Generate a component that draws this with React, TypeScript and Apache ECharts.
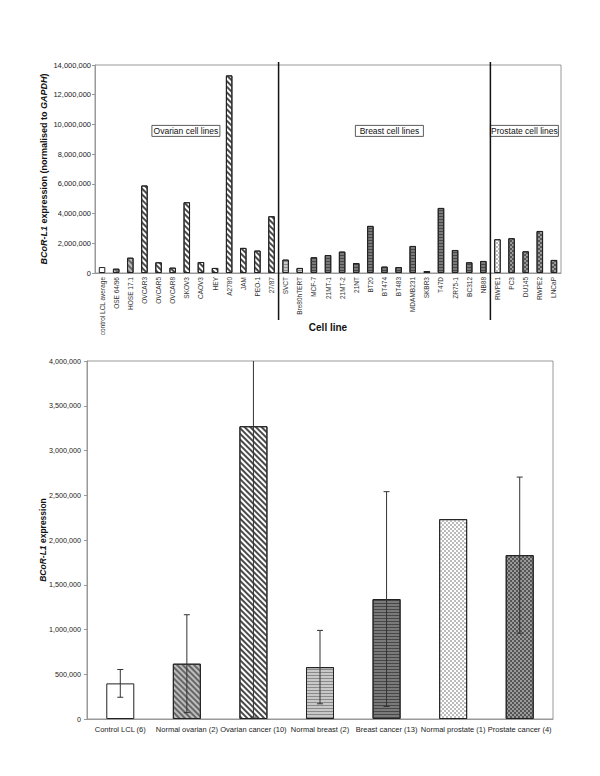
import React, { useEffect, useRef } from "react";
import * as echarts from "echarts";

// ---------- Top chart data ----------
const cellLines = [
  "control LCL average", "OSE 64/96", "HOSE 17.1", "OVCAR3", "OVCAR5", "OVCAR8", "SKOV3", "CAOV3", "HEY", "A2780", "JAM", "PEO-1", "27/87",
  "SVCT", "Bre80hTERT", "MCF-7", "21MT-1", "21MT-2", "21NT", "BT20", "BT474", "BT483", "MDAMB231", "SKBR3", "T47D", "ZR75-1", "BC312", "NB88",
  "RWPE1", "PC3", "DU145", "RWPE2", "LNCaP",
];
const cellValues = [
  400000, 290000, 1030000, 5890000, 720000, 360000, 4760000, 740000, 340000, 13300000, 1690000, 1510000, 3820000,
  900000, 340000, 1060000, 1210000, 1440000, 670000, 3170000, 430000, 400000, 1820000, 130000, 4380000, 1550000, 720000, 810000,
  2270000, 2340000, 1460000, 2830000, 880000,
];
const cellGroups = [
  "control", "normalOv", "normalOv", "ovCancer", "ovCancer", "ovCancer", "ovCancer", "ovCancer", "ovCancer", "ovCancer", "ovCancer", "ovCancer", "ovCancer",
  "normalBreast", "normalBreast", "breastCancer", "breastCancer", "breastCancer", "breastCancer", "breastCancer", "breastCancer", "breastCancer", "breastCancer", "breastCancer", "breastCancer", "breastCancer", "breastCancer", "breastCancer",
  "normalProstate", "prostateCancer", "prostateCancer", "prostateCancer", "prostateCancer",
];
const topMax = 14000000;
const topInterval = 2000000;
// last category of a block, first category of the next
const separators = [["27/87", "SVCT"], ["NB88", "RWPE1"]];
const blockLabels = ["Ovarian cell lines", "Breast cell lines", "Prostate cell lines"];

// ---------- Bottom chart data ----------
const groupCategories = [
  "Control LCL (6)", "Normal ovarian (2)", "Ovarian cancer (10)", "Normal breast (2)",
  "Breast cancer (13)", "Normal prostate (1)", "Prostate cancer (4)",
];
const groupMeans = [398000, 618000, 3271000, 580000, 1340000, 2233000, 1831000];
const groupErrors: (number | null)[] = [155000, 547000, 3250000, 410000, 1200000, null, 872000];
const groupKeys = ["control", "normalOv", "ovCancer", "normalBreast", "breastCancer", "normalProstate", "prostateCancer"];
const bottomMax = 4000000;
const bottomInterval = 500000;

const FONT = "Liberation Sans";

const stripes = (color: string) => ({
  symbol: "rect", symbolSize: 1, dashArrayX: [1, 0], dashArrayY: [2, 2], rotation: Math.PI / 4, color,
});
const hlines = (color: string) => ({
  symbol: "rect", symbolSize: 1, dashArrayX: [1, 0], dashArrayY: [1, 2], color,
});
const checker = (color: string) => ({
  symbol: "rect", symbolSize: 1, dashArrayX: [[2, 2], [0, 2, 2, 0]], dashArrayY: [2, 0], color,
});

const styles: Record<string, any> = {
  control: { color: "#ffffff" },
  normalOv: { color: "#bdbdbd", decal: stripes("#666666") },
  ovCancer: { color: "#ffffff", decal: stripes("#4a4a4a") },
  normalBreast: { color: "#c8c8c8", decal: hlines("#8a8a8a") },
  breastCancer: { color: "#7a7a7a", decal: hlines("#474747") },
  normalProstate: { color: "#ffffff", decal: checker("#bcbcbc") },
  prostateCancer: { color: "#9a9a9a", decal: checker("#555555") },
};

const fmt = (v: number) => v.toLocaleString("en-US");

export default function App() {
  const ref = useRef<HTMLDivElement>(null);
  useEffect(() => {
    document.body.style.margin = "0";
    const chart = echarts.init(ref.current!, null, { renderer: "svg" });

    const topBars = cellValues.map((v, i) => ({
      value: v,
      itemStyle: { ...styles[cellGroups[i]], borderColor: "#222", borderWidth: 1 },
    }));
    const bottomBars = groupMeans.map((v, i) => ({
      value: v,
      itemStyle: { ...styles[groupKeys[i]], borderColor: "#222", borderWidth: 1 },
    }));
    const errData = groupMeans
      .map((m, i) => (groupErrors[i] == null ? null : [i, m - (groupErrors[i] as number), m + (groupErrors[i] as number)]))
      .filter((d) => d != null);

    const boxW = [68, 68, 68];
    const boxCenters = [185.5, 389, 524];

    chart.setOption({
      animation: false,
      textStyle: { fontFamily: FONT },
      grid: [
        { left: 95, right: 39, top: 65, height: 208, show: true, borderColor: "#999", borderWidth: 1, backgroundColor: "transparent" },
        { left: 87, right: 47, top: 361, height: 358, show: true, borderColor: "#999", borderWidth: 1, backgroundColor: "transparent" },
      ],
      xAxis: [
        {
          type: "category", gridIndex: 0, data: cellLines,
          axisLine: { lineStyle: { color: "#999" } },
          axisTick: { lineStyle: { color: "#999" }, length: 3 },
          axisLabel: { rotate: 90, fontSize: 6.5, color: "#333", interval: 0, margin: 4, fontFamily: FONT },
          name: "Cell line", nameLocation: "middle", nameGap: 49, nameMoveOverlap: false,
          nameTextStyle: { fontWeight: "bold", fontSize: 10, color: "#111", fontFamily: FONT },
        },
        {
          type: "category", gridIndex: 1, data: groupCategories,
          axisLine: { lineStyle: { color: "#999" } },
          axisTick: { lineStyle: { color: "#999" }, length: 3 },
          axisLabel: { fontSize: 7.5, color: "#222", interval: 0, margin: 6, fontFamily: FONT },
        },
      ],
      yAxis: [
        {
          type: "value", gridIndex: 0, min: 0, max: topMax, interval: topInterval,
          axisLine: { show: true, lineStyle: { color: "#999" } },
          axisTick: { show: true, lineStyle: { color: "#999" }, length: 3 },
          splitLine: { show: false },
          axisLabel: { fontSize: 7.5, color: "#222", formatter: fmt, margin: 4, fontFamily: FONT },
          name: "{i|BCoR-L1} expression (normalised to {i|GAPDH})",
          nameLocation: "middle", nameRotate: 90, nameGap: 47, nameMoveOverlap: false,
          nameTextStyle: {
            fontWeight: "bold", fontSize: 9, color: "#111", fontFamily: FONT,
            rich: { i: { fontStyle: "italic", fontWeight: "bold", fontSize: 9, color: "#111", fontFamily: FONT } },
          },
        },
        {
          type: "value", gridIndex: 1, min: 0, max: bottomMax, interval: bottomInterval,
          axisLine: { show: true, lineStyle: { color: "#999" } },
          axisTick: { show: true, lineStyle: { color: "#999" }, length: 3 },
          splitLine: { show: false },
          axisLabel: { fontSize: 7.2, color: "#222", formatter: fmt, margin: 6, fontFamily: FONT },
          name: "{i|BCoR-L1} expression",
          nameLocation: "middle", nameRotate: 90, nameGap: 40, nameMoveOverlap: false,
          nameTextStyle: {
            fontWeight: "bold", fontSize: 8.5, color: "#111", fontFamily: FONT,
            rich: { i: { fontStyle: "italic", fontWeight: "bold", fontSize: 8.5, color: "#111", fontFamily: FONT } },
          },
        },
      ],
      series: [
        { type: "bar", xAxisIndex: 0, yAxisIndex: 0, data: topBars, barWidth: 6.5 },
        {
          type: "custom", xAxisIndex: 0, yAxisIndex: 0, z: 10,
          data: separators.map((s) => [cellLines.indexOf(s[0]), 0]),
          renderItem: (params: any, api: any) => {
            const pair = separators[params.dataIndex];
            const a = api.coord([cellLines.indexOf(pair[0]), 0]);
            const b = api.coord([cellLines.indexOf(pair[1]), 0]);
            const t = api.coord([cellLines.indexOf(pair[0]), topMax]);
            const x = (a[0] + b[0]) / 2;
            return {
              type: "line",
              shape: { x1: x, y1: t[1] - 3, x2: x, y2: a[1] + 47 },
              style: { stroke: "#111", lineWidth: 1.5 },
            };
          },
        },
        { type: "bar", xAxisIndex: 1, yAxisIndex: 1, data: bottomBars, barWidth: 28 },
        {
          type: "custom", xAxisIndex: 1, yAxisIndex: 1, z: 10,
          encode: { x: 0, y: [1, 2] },
          data: errData,
          renderItem: (params: any, api: any) => {
            const i = api.value(0);
            const lo = Math.max(api.value(1), 0);
            const hiRaw = api.value(2);
            const hi = Math.min(hiRaw, bottomMax);
            const p1 = api.coord([i, lo]);
            const p2 = api.coord([i, hi]);
            const cw = 3;
            const children: any[] = [
              { type: "line", shape: { x1: p1[0], y1: p1[1], x2: p2[0], y2: p2[1] }, style: { stroke: "#333", lineWidth: 1 } },
              { type: "line", shape: { x1: p1[0] - cw, y1: p1[1], x2: p1[0] + cw, y2: p1[1] }, style: { stroke: "#333", lineWidth: 1 } },
            ];
            if (hiRaw <= bottomMax) {
              children.push({ type: "line", shape: { x1: p2[0] - cw, y1: p2[1], x2: p2[0] + cw, y2: p2[1] }, style: { stroke: "#333", lineWidth: 1 } });
            }
            return { type: "group", children };
          },
        },
      ],
      graphic: blockLabels.map((txt, k) => ({
        type: "group",
        left: boxCenters[k] - boxW[k] / 2,
        top: 125,
        children: [
          { type: "rect", shape: { x: 0, y: 0, width: boxW[k], height: 11 }, style: { fill: "#fff", stroke: "#333", lineWidth: 0.8 } },
          {
            type: "text", x: boxW[k] / 2, y: 5.5,
            style: { text: txt, fontSize: 8.5, fontFamily: FONT, fill: "#111", align: "center", verticalAlign: "middle" },
          },
        ],
      })),
    });
    return () => chart.dispose();
  }, []);
  return <div ref={ref} style={{ width: 600, height: 776 }} />;
}
